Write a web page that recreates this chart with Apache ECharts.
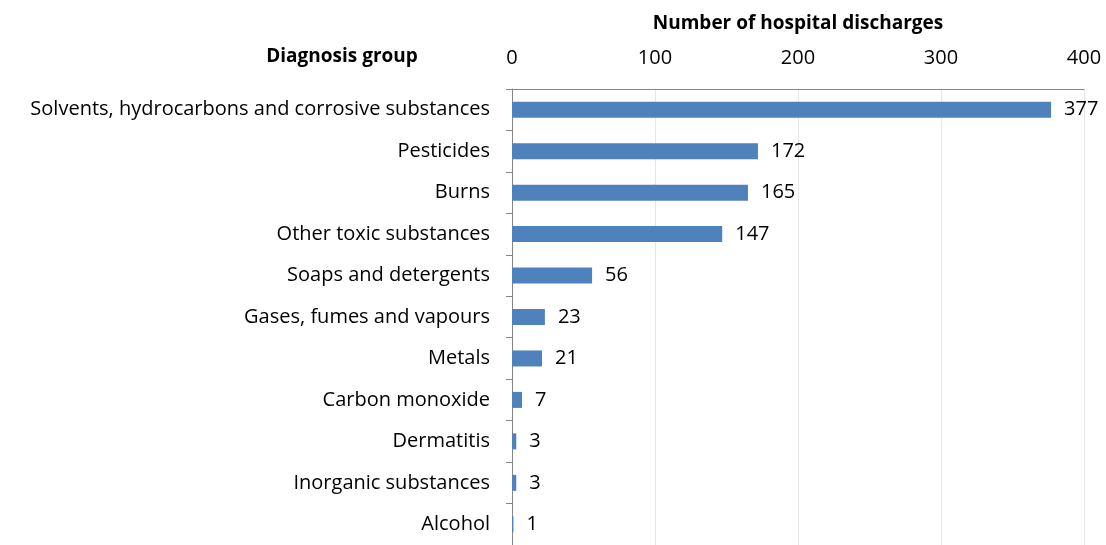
<!DOCTYPE html>
<html>
<head>
<meta charset="utf-8">
<script src="https://cdn.jsdelivr.net/npm/echarts@6/dist/echarts.min.js"></script>
<style>
  html, body { margin: 0; padding: 0; background: #fff; }
  #main { width: 1106px; height: 545px; }
</style>
</head>
<body>
<div id="main"></div>
<script>
// diagnosis groups, top to bottom
var categories = [
  'Solvents, hydrocarbons and corrosive substances',
  'Pesticides',
  'Burns',
  'Other toxic substances',
  'Soaps and detergents',
  'Gases, fumes and vapours',
  'Metals',
  'Carbon monoxide',
  'Dermatitis',
  'Inorganic substances',
  'Alcohol'
];
var discharges = [377, 172, 165, 147, 56, 23, 21, 7, 3, 3, 1];
var xTicks = [0, 100, 200, 300, 400];

var font = '"Open Sans", sans-serif';
var fs = 20;   // regular text
var fsb = 19;  // bold headings
var chart = echarts.init(document.getElementById('main'), null, { renderer: 'canvas' });

var option = {
  animation: false,
  textStyle: { fontFamily: font },
  title: {
    text: 'Diagnosis group',
    left: 337,
    top: 42,
    textAlign: 'center',
    textStyle: { fontFamily: font, fontSize: fsb, fontWeight: 'bold', color: '#000' }
  },
  grid: {
    left: 512,
    top: 89,
    width: 572,
    height: 463
  },
  xAxis: {
    type: 'value',
    position: 'top',
    min: xTicks[0],
    max: xTicks[xTicks.length - 1],
    interval: 100,
    name: 'Number of hospital discharges',
    nameLocation: 'middle',
    nameGap: 56,
    nameTextStyle: { fontFamily: font, fontSize: fsb, fontWeight: 'bold', color: '#000' },
    axisLine: { show: true, lineStyle: { color: '#868686', width: 1 } },
    axisTick: { show: false },
    axisLabel: { fontFamily: font, fontSize: fs, color: '#000', margin: 21 },
    splitLine: { show: true, lineStyle: { color: '#e6e6e6', width: 1 } }
  },
  yAxis: {
    type: 'category',
    data: categories,
    inverse: true,
    axisLine: { show: true, lineStyle: { color: '#868686', width: 1 } },
    axisTick: { show: true, length: 6, lineStyle: { color: '#868686' } },
    axisLabel: { fontFamily: font, fontSize: fs, color: '#000', margin: 22, padding: [3, 0, 0, 0] }
  },
  series: [{
    type: 'bar',
    data: discharges,
    barWidth: 16,
    itemStyle: { color: '#4F81BD' },
    label: {
      show: true,
      position: 'right',
      distance: 13,
      fontFamily: font,
      fontSize: fs,
      color: '#000',
      padding: [3, 0, 0, 0]
    }
  }]
};

chart.setOption(option);
</script>
</body>
</html>
